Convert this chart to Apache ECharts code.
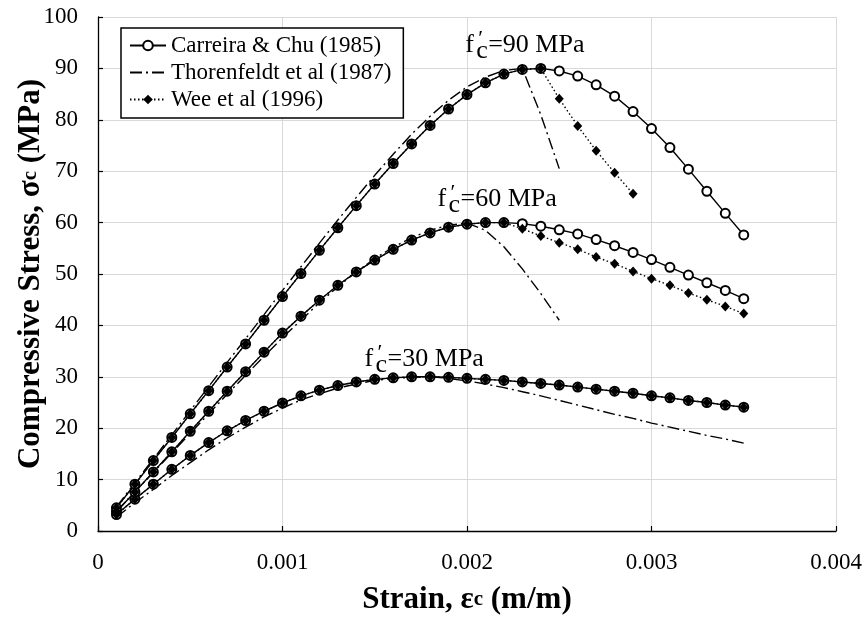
<!DOCTYPE html>
<html>
<head>
<meta charset="utf-8">
<script src="https://cdn.jsdelivr.net/npm/echarts@6/dist/echarts.min.js"></script>
<style>
  html, body { margin: 0; padding: 0; background: #fff; }
  #chart { width: 864px; height: 618px; }
</style>
</head>
<body>
<div id="chart"></div>
<script>
// Strain sampled every 0.0001 m/m
const strain = [
  0.0001, 0.0002, 0.0003, 0.0004, 0.0005, 0.0006, 0.0007, 0.0008, 0.0009, 0.0010,
  0.0011, 0.0012, 0.0013, 0.0014, 0.0015, 0.0016, 0.0017, 0.0018, 0.0019, 0.0020,
  0.0021, 0.0022, 0.0023, 0.0024, 0.0025, 0.0026, 0.0027, 0.0028, 0.0029, 0.0030,
  0.0031, 0.0032, 0.0033, 0.0034, 0.0035
];

// Carreira & Chu (1985), stress in MPa
const carreira30 = [
  3.2, 6.2, 9.1, 12.0, 14.7, 17.2, 19.5, 21.5, 23.3, 24.9,
  26.3, 27.4, 28.3, 29.0, 29.5, 29.8, 30.0, 30.0, 29.9, 29.7,
  29.5, 29.3, 29.0, 28.7, 28.4, 28.0, 27.6, 27.2, 26.8, 26.3,
  25.9, 25.4, 25.0, 24.5, 24.1
];
const carreira60 = [
  3.8, 7.6, 11.5, 15.4, 19.4, 23.3, 27.2, 31.0, 34.8, 38.5,
  41.8, 44.9, 47.8, 50.4, 52.7, 54.8, 56.6, 58.0, 59.1, 59.7,
  60.0, 60.0, 59.8, 59.3, 58.6, 57.8, 56.7, 55.5, 54.2, 52.8,
  51.3, 49.8, 48.3, 46.8, 45.2
];
const carreira90 = [
  4.5, 9.1, 13.7, 18.2, 22.8, 27.3, 31.9, 36.4, 41.0, 45.6,
  50.1, 54.6, 59.0, 63.3, 67.5, 71.5, 75.3, 78.9, 82.1, 84.9,
  87.2, 88.9, 89.8, 90.0, 89.5, 88.5, 86.8, 84.6, 81.6, 78.3,
  74.6, 70.4, 66.1, 61.8, 57.6
];

// Thorenfeldt et al (1987)
const thorenfeldt30 = [
  2.7, 5.5, 8.1, 10.8, 13.3, 15.8, 18.1, 20.2, 22.2, 23.9,
  25.5, 26.7, 27.8, 28.6, 29.3, 29.7, 29.9, 30.0, 29.7, 29.2,
  28.6, 27.9, 27.1, 26.3, 25.4, 24.5, 23.6, 22.7, 21.9, 21.0,
  20.2, 19.4, 18.6, 17.9, 17.1
];
const thorenfeldt60 = [
  3.8, 7.6, 11.4, 15.2, 19.0, 22.8, 26.6, 30.3, 34.0, 37.6,
  41.0, 44.4, 47.5, 50.4, 53.0, 55.2, 57.1, 58.5, 59.5, 59.9,
  58.5, 55.3, 51.0, 46.2, 41.0
];
const thorenfeldt90 = [
  4.7, 9.4, 14.0, 18.7, 23.4, 28.1, 32.8, 37.4, 42.1, 46.8,
  51.4, 56.0, 60.5, 64.9, 69.2, 73.3, 77.2, 80.7, 83.8, 86.4,
  88.3, 89.6, 90.0, 81.0, 70.5
];

// Wee et al (1996)
const wee30 = carreira30.slice();
const wee60 = [
  3.8, 7.6, 11.5, 15.4, 19.4, 23.3, 27.2, 31.0, 34.8, 38.5,
  41.8, 44.9, 47.8, 50.4, 52.7, 54.8, 56.6, 58.0, 59.1, 59.7,
  60.0, 60.0, 58.8, 57.4, 56.1, 54.8, 53.3, 52.0, 50.5, 49.1,
  47.8, 46.3, 45.0, 43.7, 42.3
];
const wee90 = [
  4.5, 9.1, 13.7, 18.2, 22.8, 27.3, 31.9, 36.4, 41.0, 45.6,
  50.1, 54.6, 59.0, 63.3, 67.5, 71.5, 75.3, 78.9, 82.1, 84.9,
  87.2, 88.9, 89.8, 90.0, 84.1, 78.8, 74.0, 69.7, 65.6
];

const xTicks = { min: 0, max: 0.004, interval: 0.001 };
const yTicks = { min: 0, max: 100, interval: 10 };

const names = ['Carreira & Chu (1985)', 'Thorenfeldt et al (1987)', 'Wee et al (1996)'];

// Strength annotations: label value and [strain, stress] anchor at the text's left baseline
const strengthLabels = [
  { value: '90', at: [0.00199, 93.1] },
  { value: '60', at: [0.00184, 63.2] },
  { value: '30', at: [0.001445, 32.1] }
];

const SERIF = '"Liberation Serif", "Times New Roman", serif';

function pairs(vals) {
  return vals.map((v, i) => [strain[i], v]);
}

function thorenfeldtSeries(vals) {
  return {
    name: names[1], type: 'line', data: pairs(vals), z: 2,
    symbol: 'none', silent: true,
    lineStyle: { color: '#000', width: 1.4, type: [12, 4, 2, 4] },
    itemStyle: { color: '#000' }
  };
}
function carreiraSeries(vals) {
  return {
    name: names[0], type: 'line', data: pairs(vals), z: 3,
    symbol: 'emptyCircle', symbolSize: 9, silent: true,
    lineStyle: { color: '#000', width: 1.4, type: 'solid' },
    itemStyle: { color: '#000', borderColor: '#000', borderWidth: 1 }
  };
}
function weeSeries(vals) {
  return {
    name: names[2], type: 'line', data: pairs(vals), z: 4,
    symbol: 'diamond', symbolSize: [9, 10], silent: true,
    lineStyle: { color: '#000', width: 1.4, type: [1.5, 2.5] },
    itemStyle: { color: '#000' }
  };
}

const titleRich = {
  a: { fontFamily: SERIF, fontSize: 31, fontWeight: 'bold', color: '#000', lineHeight: 36, verticalAlign: 'bottom' },
  s: { fontFamily: SERIF, fontSize: 21, fontWeight: 'bold', color: '#000', lineHeight: 36, verticalAlign: 'bottom', padding: [0, 0, 5, 0] }
};

const chart = echarts.init(document.getElementById('chart'), null, { renderer: 'canvas' });

chart.setOption({
  animation: false,
  backgroundColor: '#fff',
  textStyle: { fontFamily: SERIF, color: '#000' },
  grid: { left: 98, right: 28, top: 17, bottom: 87, containLabel: false, outerBoundsMode: 'none' },
  legend: {
    data: [
      { name: names[0] },
      { name: names[1], itemStyle: { color: 'rgba(0,0,0,0)', borderColor: 'rgba(0,0,0,0)', borderWidth: 0 } },
      { name: names[2] }
    ],
    orient: 'vertical',
    left: 121, top: 28,
    itemWidth: 36, itemHeight: 12, itemGap: 4,
    padding: [6, 12, 7, 8],
    borderColor: '#000', borderWidth: 1.5,
    backgroundColor: '#fff',
    textStyle: { fontFamily: SERIF, fontSize: 23, color: '#000' }
  },
  xAxis: {
    type: 'value',
    min: xTicks.min, max: xTicks.max, interval: xTicks.interval,
    name: '{a|Strain, ε}{s|c}{a| (m/m)}',
    nameLocation: 'middle', nameGap: 48, nameMoveOverlap: false,
    nameTextStyle: { rich: titleRich },
    axisLine: { lineStyle: { color: '#000', width: 1.3 } },
    axisTick: { inside: true, length: 5, lineStyle: { color: '#000', width: 1.2 } },
    axisLabel: {
      margin: 20, fontFamily: SERIF, fontSize: 23, color: '#000',
      formatter: v => (v === 0 ? '0' : v.toFixed(3))
    },
    splitLine: { show: true, lineStyle: { color: '#d9d9d9', width: 1 } }
  },
  yAxis: {
    type: 'value',
    min: yTicks.min, max: yTicks.max, interval: yTicks.interval,
    name: '{a|Compressive Stress, σ}{s|c}{a| (MPa)}',
    nameLocation: 'middle', nameGap: 52, nameMoveOverlap: false,
    nameTextStyle: { rich: titleRich },
    axisLine: { show: true, lineStyle: { color: '#000', width: 1.3 } },
    axisTick: { show: true, inside: true, length: 5, lineStyle: { color: '#000', width: 1.2 } },
    axisLabel: { margin: 20, fontFamily: SERIF, fontSize: 23, color: '#000' },
    splitLine: { show: true, lineStyle: { color: '#d9d9d9', width: 1 } }
  },
  series: [
    thorenfeldtSeries(thorenfeldt30),
    thorenfeldtSeries(thorenfeldt60),
    thorenfeldtSeries(thorenfeldt90),
    carreiraSeries(carreira30),
    carreiraSeries(carreira60),
    carreiraSeries(carreira90),
    weeSeries(wee30),
    weeSeries(wee60),
    weeSeries(wee90)
  ]
});

// f'c = ... MPa labels, placed from data coordinates
const graphics = [];
strengthLabels.forEach((lab, i) => {
  const p = chart.convertToPixel({ gridIndex: 0 }, lab.at);
  const font = '26px ' + SERIF;
  graphics.push({
    type: 'group', id: 'fc' + i, x: p[0], y: p[1] + 6, z: 100, silent: true,
    children: [
      { type: 'text', x: 0, y: 0, style: { text: 'f', font: font, fill: '#000', verticalAlign: 'bottom' } },
      { type: 'text', x: 13, y: -8, style: { text: '\u2032', font: '22px ' + SERIF, fill: '#000', verticalAlign: 'bottom' } },
      { type: 'text', x: 11, y: 6, style: { text: 'c', font: font, fill: '#000', verticalAlign: 'bottom' } },
      { type: 'text', x: 23, y: 0, style: { text: '=' + lab.value + ' MPa', font: font, fill: '#000', verticalAlign: 'bottom' } }
    ]
  });
});
chart.setOption({ graphic: graphics });
</script>
</body>
</html>
